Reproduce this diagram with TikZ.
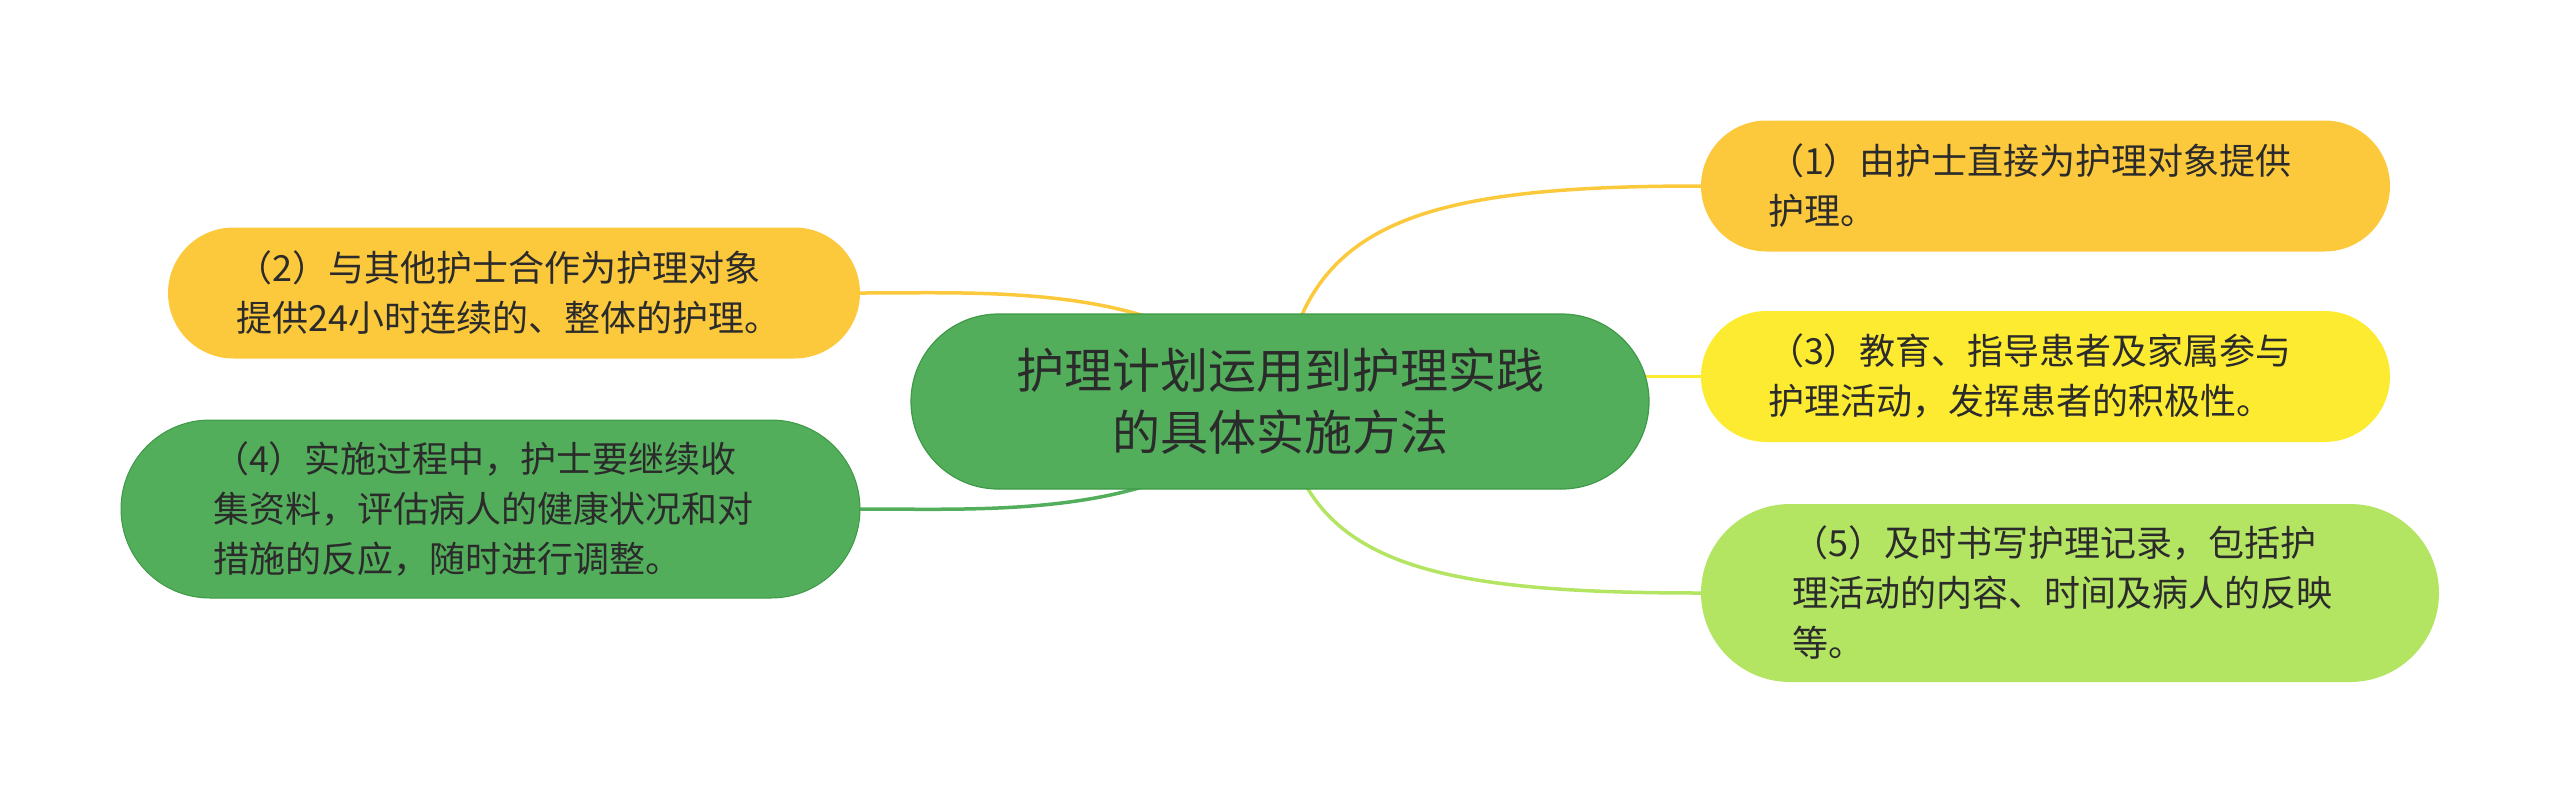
\documentclass[tikz,border=0pt]{standalone}
\usepackage{fontspec}
\newfontfamily\cjk{Noto Sans CJK SC}
\pgfdeclarelayer{bg}
\pgfsetlayers{bg,main}
\definecolor{gold}{HTML}{FCC93D}
\definecolor{brightyellow}{HTML}{FDEB32}
\definecolor{leafgreen}{HTML}{B3E462}
\definecolor{maingreen}{HTML}{53AE5C}
\definecolor{darkgreen}{HTML}{3F9A48}
\definecolor{ink}{HTML}{2B2B2B}
\begin{document}
\begin{tikzpicture}[x=1pt,y=-1pt,
  leaf/.style={inner sep=0pt, align=left, text width=555pt, text=ink,
    font=\cjk\fontsize{36pt}{50pt}\selectfont},
  twoline/.style={leaf, minimum height=131pt, rounded corners=65.5pt},
  threeline/.style={leaf, minimum height=178pt, rounded corners=89pt},
  rootbox/.style={inner sep=0pt, align=center, text=ink, fill=maingreen,
    draw=darkgreen, line width=1.2pt, minimum width=738pt, minimum height=175pt,
    rounded corners=87.5pt, font=\cjk\fontsize{48pt}{62pt}\selectfont},
  conn/.style={line width=3.5pt, line cap=round}
]
\useasboundingbox (0,0) rectangle (2560,804);

\node[rootbox] (c) at (1280,401.5) {护理计划运用到护理实践\\的具体实施方法};

\node[twoline, fill=gold, minimum width=689pt] (n1) at (2045.5,186)
  {（1）由护士直接为护理对象提供\\护理。};
\node[twoline, fill=brightyellow, minimum width=689pt] (n3) at (2045.5,376.5)
  {（3）教育、指导患者及家属参与\\护理活动，发挥患者的积极性。};
\node[threeline, fill=leafgreen, minimum width=738pt] (n5) at (2070,593)
  {（5）及时书写护理记录，包括护\\理活动的内容、时间及病人的反映\\等。};
\node[twoline, fill=gold, minimum width=692pt] (n2) at (514,293)
  {（2）与其他护士合作为护理对象\\提供24小时连续的、整体的护理。};
\node[threeline, fill=maingreen, draw=darkgreen, line width=1pt, minimum width=739pt] (n4) at (490.5,509)
  {（4）实施过程中，护士要继续收\\集资料，评估病人的健康状况和对\\措施的反应，随时进行调整。};

\begin{pgfonlayer}{bg}
\draw[conn, gold] (c.center) .. controls (1300,225) and (1410,186) .. (n1.west);
\draw[conn, brightyellow] (n3.west -| c.center) -- (n3.west);
\draw[conn, leafgreen] (c.center) .. controls (1300,562) and (1420,593) .. (n5.west);
\draw[conn, gold] (c.center) .. controls (1180,282) and (1000,293) .. (n2.east);
\draw[conn, maingreen] (c.center) .. controls (1180,520) and (1000,509) .. (n4.east);
\end{pgfonlayer}
\end{tikzpicture}
\end{document}
